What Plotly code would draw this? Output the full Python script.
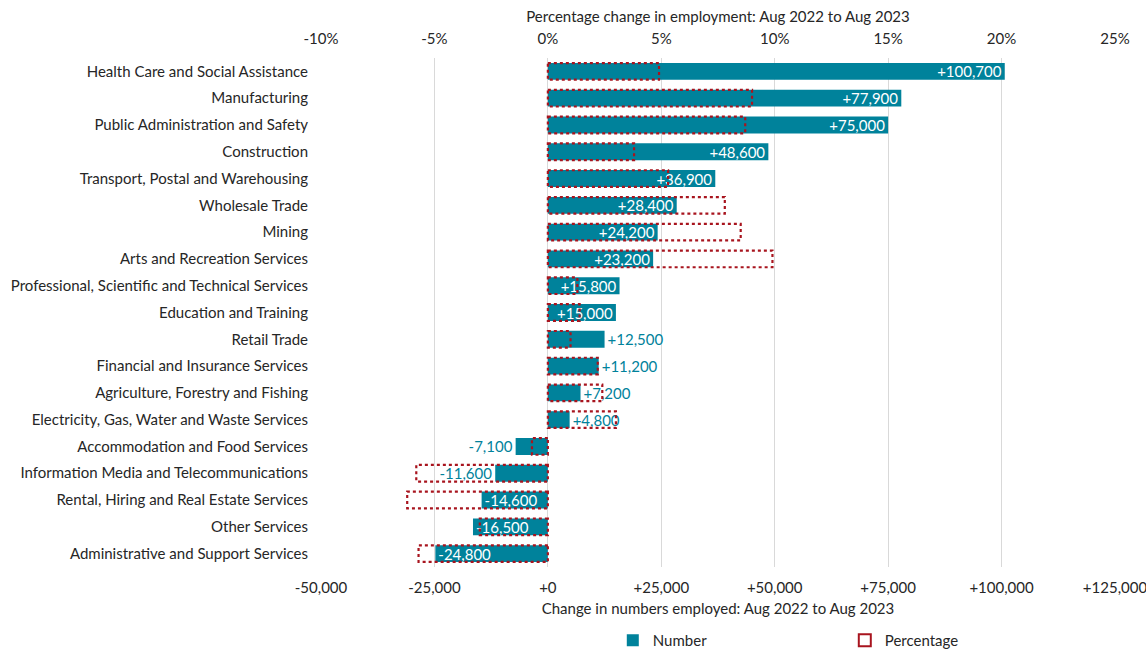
import plotly.graph_objects as go

categories = [
    "Health Care and Social Assistance",
    "Manufacturing",
    "Public Administration and Safety",
    "Construction",
    "Transport, Postal and Warehousing",
    "Wholesale Trade",
    "Mining",
    "Arts and Recreation Services",
    "Professional, Scientific and Technical Services",
    "Education and Training",
    "Retail Trade",
    "Financial and Insurance Services",
    "Agriculture, Forestry and Fishing",
    "Electricity, Gas, Water and Waste Services",
    "Accommodation and Food Services",
    "Information Media and Telecommunications",
    "Rental, Hiring and Real Estate Services",
    "Other Services",
    "Administrative and Support Services",
]
numbers = [100700, 77900, 75000, 48600, 36900, 28400, 24200, 23200, 15800, 15000,
           12500, 11200, 7200, 4800, -7100, -11600, -14600, -16500, -24800]
percentages = [4.9, 9.0, 8.7, 3.8, 5.3, 7.8, 8.5, 9.9, 1.3, 1.4,
               1.0, 2.2, 2.4, 3.0, -0.7, -5.8, -6.2, -3.0, -5.7]
label_inside = [True] * 10 + [False] * 6 + [True] * 3

num_ticks = [-50000, -25000, 0, 25000, 50000, 75000, 100000, 125000]
num_tick_text = ["-50,000", "-25,000", "+0", "+25,000", "+50,000", "+75,000", "+100,000", "+125,000"]
pct_ticks = [-10, -5, 0, 5, 10, 15, 20, 25]
pct_tick_text = ["-10%", "-5%", "0%", "5%", "10%", "15%", "20%", "25%"]

TEAL = "#00829B"
RED = "#A8141E"
FONT = "Lato"
FS = 15
TXT = "#262626"

labels = [("+" if v > 0 else "") + f"{v:,}" for v in numbers]
positions = ["inside" if b else "outside" for b in label_inside]
tcolors = ["white" if b else TEAL for b in label_inside]

fig = go.Figure()
fig.add_trace(go.Bar(
    y=categories, x=numbers, orientation="h", name="Number",
    marker=dict(color=TEAL, line=dict(width=0)),
    text=labels, textposition=positions, insidetextanchor="end",
    textfont=dict(color=tcolors, size=FS, family=FONT),
    insidetextfont=dict(color="white", size=FS, family=FONT),
    outsidetextfont=dict(color=TEAL, size=FS, family=FONT),
    cliponaxis=False, constraintext="none", xaxis="x", yaxis="y",
))
fig.add_trace(go.Bar(
    y=categories, x=percentages, orientation="h", name="Percentage",
    marker=dict(color="rgba(0,0,0,0)", line=dict(width=0)),
    xaxis="x2", yaxis="y", showlegend=False,
))
fig.add_trace(go.Bar(
    y=[None], x=[None], orientation="h", name="Percentage",
    marker=dict(color="white", line=dict(color=RED, width=2)),
    xaxis="x2", yaxis="y",
))

half = 0.31
for i, v in enumerate(percentages):
    fig.add_shape(type="rect", xref="x2", yref="y",
                  x0=0, x1=v, y0=i - half, y1=i + half,
                  line=dict(color=RED, width=2.2, dash="dot"),
                  fillcolor="rgba(0,0,0,0)", layer="above")

fig.update_layout(
    width=1146, height=651,
    margin=dict(l=321, r=31, t=58, b=84, autoexpand=False),
    paper_bgcolor="white", plot_bgcolor="white",
    barmode="overlay", bargap=0.37,
    font=dict(family=FONT, size=FS, color=TXT),
    uniformtext=dict(minsize=FS, mode="show"),
    showlegend=True,
    legend=dict(orientation="h", x=0.3675, xanchor="left", y=-0.112,
                yanchor="top", itemwidth=30, entrywidth=187,
                font=dict(size=FS, color=TXT)),
    xaxis=dict(range=[-50000, 125000], tickvals=num_ticks, ticktext=num_tick_text,
               showgrid=True, gridcolor="#D9D9D9", gridwidth=1, zeroline=False,
               showline=False, ticks="", side="bottom", ticklabelstandoff=10,
               ticklabeloverflow="allow",
               title=dict(text="Change in numbers employed: Aug 2022 to Aug 2023",
                          font=dict(size=FS, color=TXT), standoff=8),
               tickfont=dict(size=FS, color=TXT)),
    xaxis2=dict(range=[-10, 25], tickvals=pct_ticks, ticktext=pct_tick_text,
                overlaying="x", side="top", showgrid=False, zeroline=False,
                showline=False, ticks="", ticklabelstandoff=10,
                ticklabeloverflow="allow",
                title=dict(text="Percentage change in employment: Aug 2022 to Aug 2023",
                           font=dict(size=FS, color=TXT), standoff=2),
                tickfont=dict(size=FS, color=TXT)),
    yaxis=dict(categoryorder="array", categoryarray=categories, autorange="reversed",
               showgrid=False, zeroline=False, showline=False, ticks="",
               ticklabelstandoff=12, tickfont=dict(size=FS, color=TXT)),
)

fig.write_html("out.html")
